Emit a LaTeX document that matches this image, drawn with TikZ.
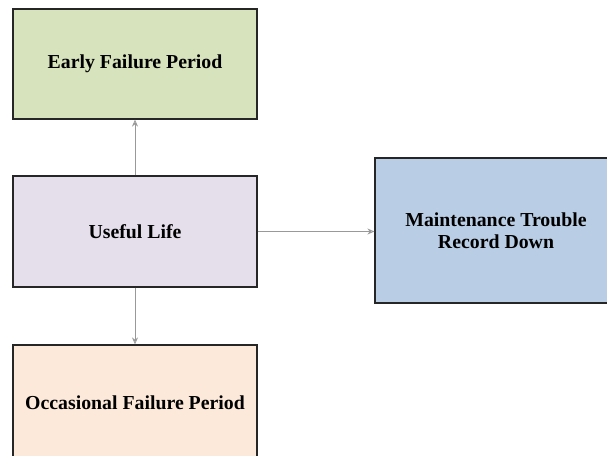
\documentclass[tikz,border=0pt]{standalone}
\usepackage{fontspec}
\setmainfont{Liberation Serif}
\usetikzlibrary{%
        arrows.meta
    }
\definecolor{earlygreen}{HTML}{D7E3BC}
\definecolor{usefullilac}{HTML}{E5DFEC}
\definecolor{occpeach}{HTML}{FCE9DA}
\definecolor{maintblue}{HTML}{B9CDE5}
\tikzset{%
    period/.style={%
        draw=black!85,
        line width=1.2pt,
        minimum width=244pt,
        minimum height=110pt,
        align=center,
        font=\fontsize{19.8pt}{22pt}\selectfont\bfseries
    },
    flow/.style={%
        draw=black!40,
        line width=0.9pt,
        -{Stealth[length=7pt, width=6pt, open]}
    }
}

\begin{document}
\begin{tikzpicture}[x=1pt, y=1pt]

    \useasboundingbox (0, 0) rectangle (607, -455);
    \clip (0, 0) rectangle (607, -455);

    % Periods
    \node[period, fill=earlygreen] (early) at (135, -64)
        {Early Failure Period};
    \node[period, fill=usefullilac, minimum height=111pt] (useful) at (135, -231.5)
        {Useful Life};
    \node[period, fill=occpeach, minimum height=116pt] (occasional) at (135, -403)
        {Occasional Failure Period};

    % Record
    \node[period, fill=maintblue, minimum width=242pt, minimum height=145pt]
        (record) at (496, -230.5)
        {Maintenance Trouble\\Record Down};

    % Connectors
    \draw[flow] (useful.north) -- (early.south);
    \draw[flow] (useful.south) -- (occasional.north);
    \draw[flow] (useful.east) -- (useful.east -| record.west);

\end{tikzpicture}
\end{document}
